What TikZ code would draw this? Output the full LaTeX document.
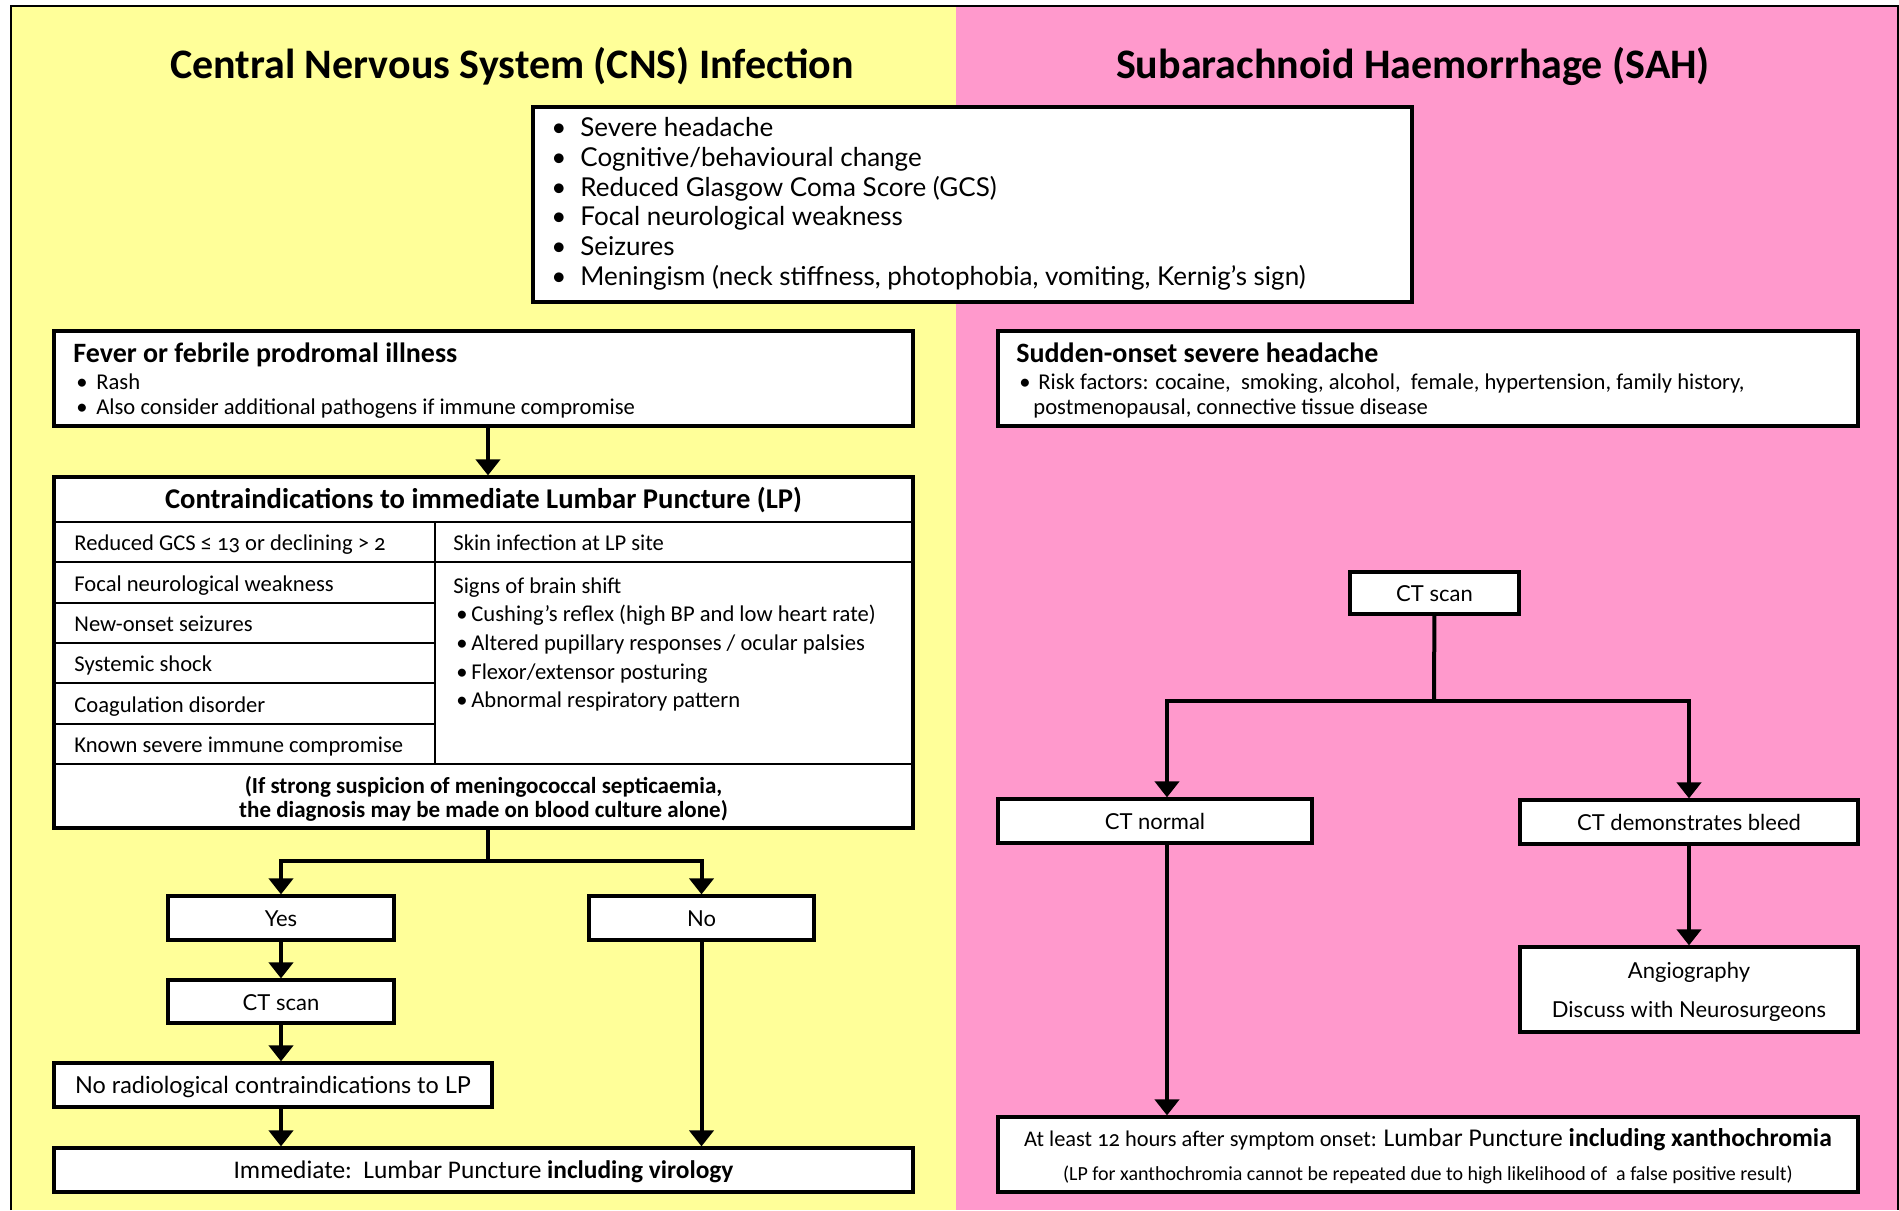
\documentclass[tikz,border=0pt]{standalone}
\usepackage{fontspec}
\setmainfont[Numbers=OldStyle]{Carlito}
\newfontfamily\widefont{Lato}
\usetikzlibrary{arrows.meta}

\definecolor{cnsyellow}{HTML}{FFFF99}
\definecolor{sahpink}{HTML}{FF99CC}

\begin{document}
\begin{tikzpicture}[x=0.5pt, y=-0.5pt,
  box/.style={draw, fill=white, line width=1.6pt, inner sep=0pt},
  link/.style={line width=2pt, -{Triangle[width=12pt,length=8pt]}},
  plain/.style={line width=2pt},
  grid/.style={line width=1.2pt},
  title/.style={font=\fontsize{21}{25}\selectfont\bfseries, inner sep=0pt, yshift=-1.5pt},
  sym/.style={font=\widefont\fontsize{13}{15}\selectfont, anchor=mid west, inner sep=0pt, yshift=-2pt},
  head/.style={font=\fontsize{14}{16}\selectfont\bfseries, anchor=mid west, inner sep=0pt, yshift=-2pt},
  small/.style={font=\fontsize{11.3}{13}\selectfont, anchor=mid west, inner sep=0pt, yshift=-2pt},
  cell/.style={font=\fontsize{11.3}{13}\selectfont, anchor=mid west, inner sep=0pt, yshift=-2pt},
  lab/.style={font=\widefont\fontsize{11}{13}\selectfont, inner sep=0pt, anchor=mid, yshift=-2pt}]

  % background halves
  \useasboundingbox (0,0) rectangle (1899,1210);
  \fill[cnsyellow] (11,6) rectangle (956,1210);
  \fill[sahpink] (956,6) rectangle (1899,1210);
  \draw[line width=1pt] (11,1210) -- (11,6) -- (1898,6) -- (1898,1210);

  \node[title] (cnstitle) at (512,63) {Central Nervous System (CNS) Infection};
  \node[title] (sahtitle) at (1413,63) {Subarachnoid Haemorrhage (SAH)};

  % shared symptoms
  \node[box, minimum width=439.5pt, minimum height=97.5pt] (signs) at (972.5,204.5) {};
  \foreach \t [count=\i from 0] in {Severe headache, Cognitive/behavioural change,
      Reduced Glasgow Coma Score (GCS), Focal neurological weakness, Seizures,
      {Meningism (neck stiffness, photophobia, vomiting, Kernig’s sign)}} {
    \node[sym] at (551,128+29.7*\i) {•};
    \node[sym] at (580,128+29.7*\i) {\t};
  }

  % CNS side
  \node[box, minimum width=429.5pt, minimum height=47.5pt] (fever) at (483.5,378.5) {};
  \node[head] at (73,354) {Fever or febrile prodromal illness};
  \node[small] at (76,381) {•};
  \node[small] at (96,381) {Rash};
  \node[small] at (76,406) {•};
  \node[small] at (96,406) {Also consider additional pathogens if immune compromise};

  \node[box, minimum width=429.5pt, minimum height=175.5pt] (contra) at (483.5,652.5) {};
  \draw[grid] (54,522) -- (913,522);
  \draw[grid] (54,562) -- (913,562);
  \draw[grid] (54,764) -- (913,764);
  \draw[grid] (435,522) -- (435,764);
  \foreach \y in {603,643,683,724} \draw[grid] (54,\y) -- (435,\y);
  \node[head, anchor=mid, font=\fontsize{14.3}{16}\selectfont\bfseries] at (483.5,500)
    {Contraindications to immediate Lumbar Puncture (LP)};
  \foreach \t [count=\i from 0] in {Reduced GCS ≤ 13 or declining > 2, Focal neurological weakness,
      New-onset seizures, Systemic shock, Coagulation disorder, Known severe immune compromise} {
    \node[cell] at (74,542+40.4*\i) {\t};
  }
  \node[cell] at (453,542) {Skin infection at LP site};
  \node[cell] at (453,585) {Signs of brain shift};
  \foreach \t [count=\i from 0] in {Cushing’s reflex (high BP and low heart rate),
      Altered pupillary responses / ocular palsies, Flexor/extensor posturing,
      Abnormal respiratory pattern} {
    \node[cell] at (456,613+28.7*\i) {•};
    \node[cell] at (471,613+28.7*\i) {\t};
  }
  \node[small, anchor=mid, font=\fontsize{11.5}{13}\selectfont\bfseries] at (483.5,785)
    {(If strong suspicion of meningococcal septicaemia,};
  \node[small, anchor=mid, font=\fontsize{11.5}{13}\selectfont\bfseries] at (483.5,809)
    {the diagnosis may be made on blood culture alone)};

  \node[box, minimum width=113pt, minimum height=22pt] (yes) at (281,918) {};
  \node[lab] at (yes) {Yes};
  \node[box, minimum width=112.5pt, minimum height=22pt] (no) at (701.5,918) {};
  \node[lab] at (no) {No};
  \node[box, minimum width=113pt, minimum height=21.5pt] (ctl) at (281,1001.5) {};
  \node[lab] at (ctl) {CT scan};
  \node[box, minimum width=219pt, minimum height=22pt] (norad) at (273,1085) {};
  \node[lab, font=\widefont\fontsize{11.7}{13}\selectfont] at (norad) {No radiological contraindications to LP};
  \node[box, minimum width=429.5pt, minimum height=22pt] (imm) at (483.5,1170) {};
  \node[anchor=mid, inner sep=0pt, yshift=-2pt, font=\fontsize{12.7}{14}\selectfont] at (imm)
    {Immediate:\ \ Lumbar Puncture \textbf{including virology}};

  \coordinate (cfork) at (488,861);
  \draw[link] (fever.south -| cfork) -- (cfork |- contra.north);
  \draw[plain] (contra.south -| cfork) -- (cfork);
  \draw[link] (cfork) -| (yes);
  \draw[link] (cfork) -| (no);
  \draw[link] (yes) -- (ctl);
  \draw[link] (ctl) -- (ctl |- norad.north);
  \draw[link] (norad.south -| ctl) -- (ctl |- imm.north);
  \draw[link] (no) -- (no |- imm.north);

  % SAH side
  \node[box, minimum width=430pt, minimum height=47.5pt] (sudden) at (1428,378.5) {};
  \node[head] at (1016,354) {Sudden-onset severe headache};
  \node[small] at (1019,381) {•};
  \node[small] at (1038,381) {Risk factors: cocaine, \ smoking, alcohol, \ female, hypertension, family history,};
  \node[small] at (1033,406) {postmenopausal, connective tissue disease};

  \node[box, minimum width=84.5pt, minimum height=21pt] (cts) at (1434.5,593) {};
  \node[lab] at (cts) {CT scan};
  \node[box, minimum width=157pt, minimum height=22pt] (ctn) at (1155,821) {};
  \node[lab] at (ctn) {CT normal};
  \node[box, minimum width=169pt, minimum height=22pt] (bleed) at (1689,822) {};
  \node[lab] at (bleed) {CT demonstrates\ bleed};
  \node[box, minimum width=169pt, minimum height=42.5pt] (angio) at (1689,989.5) {};
  \node[lab] at (1689,970) {Angiography};
  \node[lab] at (1689,1009) {Discuss with Neurosurgeons};
  \node[box, minimum width=430pt, minimum height=37.5pt] (final) at (1428,1154.5) {};
  \node[anchor=mid, inner sep=0pt, yshift=-2pt, font=\fontsize{11.2}{13}\selectfont] at (1428,1138)
    {At least 12 hours after symptom onset: {\fontsize{12.8}{15}\selectfont Lumbar Puncture \textbf{including xanthochromia}}};
  \node[anchor=mid, inner sep=0pt, yshift=-2pt, font=\fontsize{10}{12}\selectfont] at (1428,1172)
    {(LP for xanthochromia cannot be repeated due to high likelihood of \ a false positive result)};

  \coordinate (sfork) at (1434,701);
  \coordinate (nleft) at (1167,701);
  \draw[plain] (cts) -- (sfork);
  \draw[link] (sfork) -- (nleft) -- (nleft |- ctn.north);
  \draw[link] (sfork) -| (bleed);
  \draw[link] (ctn.south -| nleft) -- (nleft |- final.north);
  \draw[link] (bleed) -- (angio);
\end{tikzpicture}
\end{document}
